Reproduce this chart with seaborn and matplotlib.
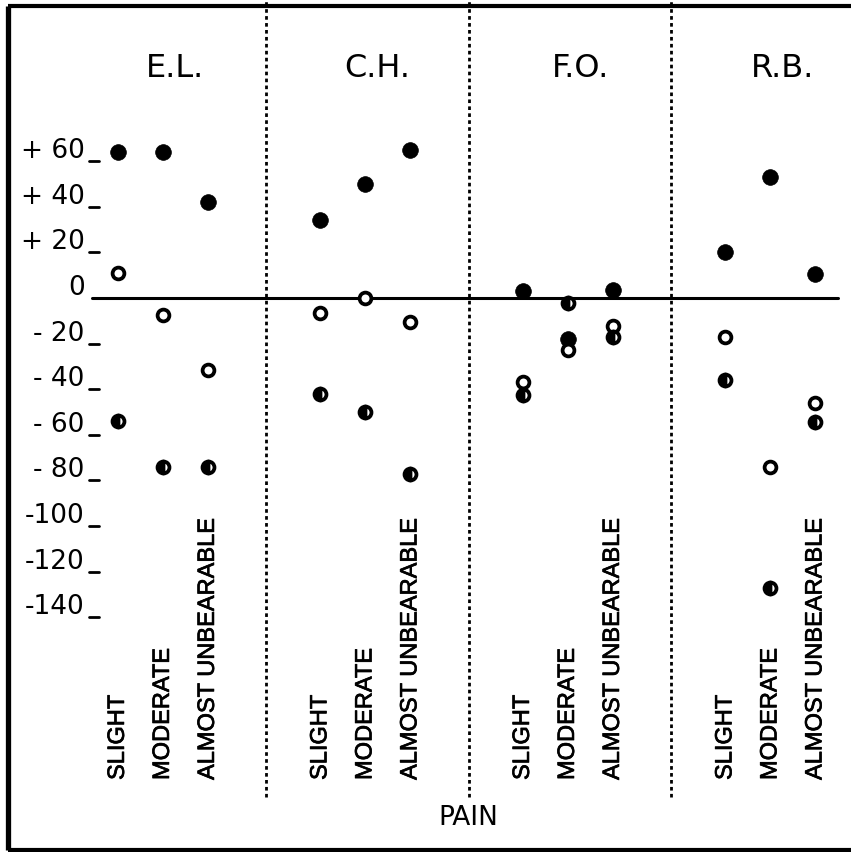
import matplotlib
matplotlib.use("Agg")
import matplotlib.pyplot as plt
import matplotlib.transforms as mtransforms
import matplotlib.patheffects as pe
from matplotlib.lines import Line2D
import seaborn as sns
import pandas as pd

# Subjects (panels) and pain levels (columns inside each panel)
subjects = ["E.L.", "C.H.", "F.O.", "R.B."]
pain_levels = ["SLIGHT", "MODERATE", "ALMOST UNBEARABLE"]

# Per-cent change for each subject, one list per pain level
filled_vals = [[64, 64, 42], [34, 50, 65], [3, -18, 3.5], [20, 53, 10.5]]
open_vals = [[11, -7.5, -31.5], [-6.5, 0, -10.5], [-37, -23, -12.5], [-17, -74, -46]]
half_vals = [[-54, -74, -74], [-42, -50, -77], [-42.5, -2, -17], [-36, -127, -54.5]]

tick_values = [60, 40, 20, 0, -20, -40, -60, -80, -100, -120, -140]
tick_labels = ["+ 60", "+ 40", "+ 20", "0", "- 20", "- 40", "- 60", "- 80",
               "-100", "-120", "-140"]

STEP = 4.5  # width of one subject panel in column units

rows = []
for i, subj in enumerate(subjects):
    for j, level in enumerate(pain_levels):
        pos = i * STEP + j
        rows.append((subj, level, pos, "filled", filled_vals[i][j]))
        rows.append((subj, level, pos, "open", open_vals[i][j]))
        rows.append((subj, level, pos, "half", half_vals[i][j]))
df = pd.DataFrame(rows, columns=["subject", "pain", "pos", "kind", "value"])

sns.set_theme(style="white")
plt.rcParams["font.family"] = ["DejaVu Sans"]

fig = plt.figure(figsize=(8.51, 8.52), dpi=100)
ax = fig.add_axes([0, 0, 1, 1])
ax.set_xlim(-2.62, 16.29)
ax.set_ylim(-243, 130.7)
ax.axis("off")

# frame: left, top and bottom rules
W, H = 851.0, 852.0
for xs, ys, lw in [([7.5, 7.5], [5.5, 849.5], 3.8),
                   ([7.5, 851], [5.5, 5.5], 3.0),
                   ([7.5, 851], [849.5, 849.5], 3.0)]:
    fig.add_artist(Line2D([x / W for x in xs], [1 - y / H for y in ys],
                          transform=fig.transFigure, color="black",
                          linewidth=lw, solid_capstyle="butt"))

# zero line
ax.plot([-0.58, 16.0], [0, 0], color="black", linewidth=2.2, zorder=1)

# dotted dividers between subjects
for i in range(1, len(subjects)):
    xd = i * STEP - 1.2
    ax.plot([xd, xd], [-219, 131], color="black", linewidth=2.0,
            linestyle=(0, (1.3, 1.2)), zorder=1)

# y labels with underscore ticks
lab_tr = mtransforms.offset_copy(ax.transData, fig=fig, x=0, y=10, units="dots")
for v, t in zip(tick_values, tick_labels):
    ax.text(-0.74, v, t, transform=lab_tr, ha="right", va="center",
            fontsize=19, color="black")
    if v != 0:
        ax.plot([-0.64, -0.42], [v, v], color="black", linewidth=2.0)

# markers
sns.scatterplot(data=df[df.kind == "filled"], x="pos", y="value", ax=ax,
                color="black", edgecolor="black", s=128, linewidth=0.5,
                zorder=3, legend=False)
sns.scatterplot(data=df[df.kind == "open"], x="pos", y="value", ax=ax,
                facecolor="white", edgecolor="black", s=72, linewidth=2.7,
                zorder=4, legend=False)
half = df[df.kind == "half"]
ax.plot(half["pos"], half["value"], linestyle="none", marker="o",
        markersize=8.6, fillstyle="left", markerfacecolor="black",
        markerfacecoloralt="white", markeredgecolor="black",
        markeredgewidth=2.7, zorder=4)

bt = mtransforms.blended_transform_factory(ax.transData, ax.transAxes)

# subject titles
for i, subj in enumerate(subjects):
    ax.text(i * STEP + 1.27, 0.92, subj, transform=bt, ha="center",
            va="center", fontsize=23, color="black")

# pain level labels, written upward
for i in range(len(subjects)):
    for j, level in enumerate(pain_levels):
        ax.text(i * STEP + j, 1 - 780 / 852, level, rotation=90, transform=bt,
                ha="center", va="bottom", fontsize=17,
                family="Liberation Sans", color="black",
                path_effects=[pe.withStroke(linewidth=0.5, foreground="black")])

ax.text(468 / 851, 1 - 818 / 852, "PAIN", transform=ax.transAxes, ha="center",
        va="center", fontsize=19, color="black")

ax.set_xlabel("")
ax.set_ylabel("")
fig.savefig("out.png", dpi=100, facecolor="white")
